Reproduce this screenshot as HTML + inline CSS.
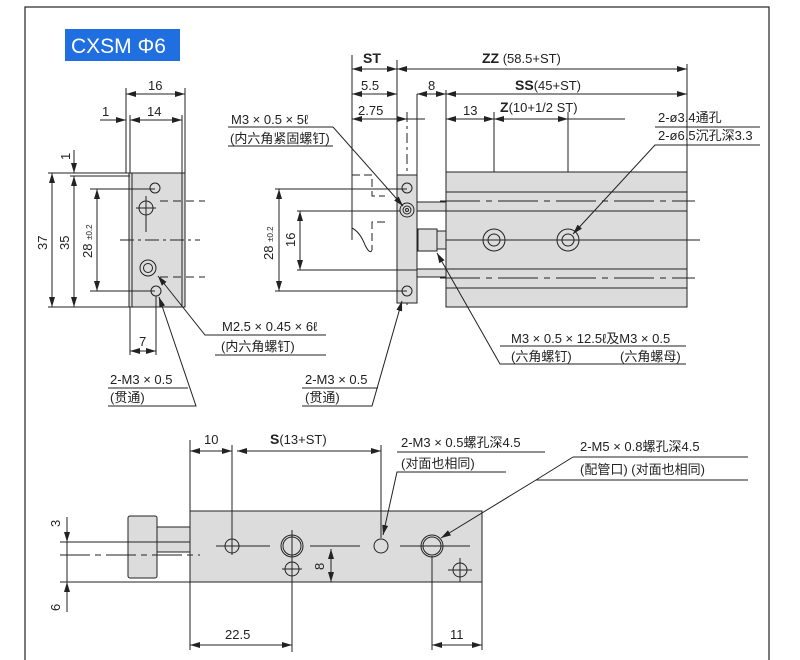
<!DOCTYPE html>
<html><head><meta charset="utf-8"><style>
html,body{margin:0;padding:0;background:#fff;}
svg{display:block;font-family:"Liberation Sans","Noto Sans CJK SC",sans-serif;}
text{font-size:13px;fill:#222;}
</style></head><body>
<svg width="800" height="660" viewBox="0 0 800 660" xmlns="http://www.w3.org/2000/svg">
<defs>
<marker id="a" viewBox="0 0 10 6" refX="10" refY="3" markerWidth="10" markerHeight="6" orient="auto-start-reverse" markerUnits="userSpaceOnUse"><path d="M0,0 L10,3 L0,6z" fill="#222"/></marker>
</defs>
<rect x="25" y="7" width="744" height="660" fill="none" stroke="#222" stroke-width="1.2"/>
<rect x="65" y="29" width="115" height="32" fill="#1f6fe0"/>
<text x="71" y="53" style="font-size:21px;fill:#fff;font-weight:500">CXSM Φ6</text>

<g stroke="#222" stroke-width="1" fill="none">
<!-- LEFT END VIEW -->
<rect x="129" y="173" width="56" height="134" fill="#dcdcdc"/>
<line x1="132" y1="173" x2="132" y2="307"/>
<line x1="182" y1="173" x2="182" y2="307"/>
<circle cx="155" cy="188" r="5"/><circle cx="146" cy="208" r="7"/>
<circle cx="148" cy="268" r="8"/><circle cx="148" cy="268" r="4.5"/>
<circle cx="156" cy="291" r="5"/>
<line x1="120" y1="240" x2="200" y2="240" stroke-dasharray="14,4,3,4"/>
<line x1="160" y1="201" x2="205" y2="201" stroke-dasharray="8,5"/>
<line x1="160" y1="277" x2="205" y2="277" stroke-dasharray="8,5"/>
<line x1="146" y1="196" x2="146" y2="232"/><line x1="136" y1="208" x2="156" y2="208"/>
<line x1="126" y1="88" x2="126" y2="173"/><line x1="185" y1="88" x2="185" y2="173"/>
<line x1="130" y1="115" x2="130" y2="173"/><line x1="182" y1="115" x2="182" y2="173"/>
<line x1="126" y1="94" x2="185" y2="94" marker-start="url(#a)" marker-end="url(#a)"/>
<line x1="130" y1="120" x2="182" y2="120" marker-start="url(#a)" marker-end="url(#a)"/>
<line x1="100" y1="120" x2="126" y2="120" marker-end="url(#a)"/>
<line x1="48" y1="173" x2="185" y2="173"/><line x1="70" y1="176" x2="130" y2="176"/>
<line x1="48" y1="307" x2="185" y2="307"/>
<line x1="90" y1="189" x2="155" y2="189"/><line x1="90" y1="291" x2="155" y2="291"/>
<line x1="52" y1="173" x2="52" y2="307" marker-start="url(#a)" marker-end="url(#a)"/>
<line x1="74" y1="176" x2="74" y2="307" marker-start="url(#a)" marker-end="url(#a)"/>
<line x1="97" y1="189" x2="97" y2="291" marker-start="url(#a)" marker-end="url(#a)"/>
<line x1="74" y1="150" x2="74" y2="173" marker-end="url(#a)"/>
<line x1="130" y1="307" x2="130" y2="355"/><line x1="156" y1="296" x2="156" y2="355"/>
<line x1="130" y1="351" x2="156" y2="351" marker-start="url(#a)" marker-end="url(#a)"/>
<polyline points="326,335 205,335 158,276" marker-end="url(#a)"/>
<line x1="215" y1="355" x2="326" y2="355"/>
<polyline points="108,388 188,388"/><polyline points="108,406 196,406 159,297" marker-end="url(#a)"/>

<!-- MIDDLE SIDE VIEW -->
<line x1="352" y1="55" x2="352" y2="240"/>
<line x1="397" y1="60" x2="397" y2="175"/>
<line x1="446" y1="90" x2="446" y2="172"/>
<line x1="687" y1="64" x2="687" y2="172"/>
<line x1="494" y1="112" x2="494" y2="255"/><line x1="568" y1="112" x2="568" y2="255"/>
<line x1="407" y1="112" x2="407" y2="305" stroke-dasharray="10,4,3,4"/>
<line x1="352" y1="69" x2="397" y2="69" marker-start="url(#a)" marker-end="url(#a)"/>
<line x1="397" y1="69" x2="687" y2="69" marker-start="url(#a)" marker-end="url(#a)"/>
<line x1="352" y1="94" x2="397" y2="94" marker-start="url(#a)" marker-end="url(#a)"/>
<line x1="417" y1="94" x2="446" y2="94" marker-start="url(#a)" marker-end="url(#a)"/>
<line x1="417" y1="94" x2="417" y2="175"/>
<line x1="446" y1="94" x2="687" y2="94" marker-start="url(#a)" marker-end="url(#a)"/>
<line x1="352" y1="119" x2="407" y2="119" marker-start="url(#a)" marker-end="url(#a)"/>
<line x1="407" y1="119" x2="425" y2="119"/>
<line x1="446" y1="119" x2="494" y2="119" marker-start="url(#a)" marker-end="url(#a)"/>
<line x1="494" y1="119" x2="568" y2="119" marker-start="url(#a)" marker-end="url(#a)"/>
<line x1="568" y1="119" x2="625" y2="119"/>
<polyline points="352,175 372,175 372,196 385,196" stroke-dasharray="8,4"/>
<polyline points="385,222 372,222 372,250" stroke-dasharray="8,4"/>
<path d="M352,225 L352,228 Q360,232 365,245 Q370,255 372,250"/>
<rect x="446" y="172" width="241" height="135" fill="#dcdcdc"/>
<line x1="446" y1="192" x2="687" y2="192"/><line x1="446" y1="211" x2="687" y2="211"/>
<line x1="446" y1="269" x2="687" y2="269"/><line x1="446" y1="288" x2="687" y2="288"/>
<line x1="440" y1="201" x2="695" y2="201" stroke-dasharray="40,6,6,6"/>
<line x1="440" y1="278" x2="695" y2="278" stroke-dasharray="40,6,6,6"/>
<line x1="440" y1="240" x2="700" y2="240"/>
<rect x="417" y="202" width="29" height="9" fill="#dcdcdc"/>
<rect x="417" y="269" width="29" height="8" fill="#dcdcdc"/>
<rect x="418" y="229" width="19" height="22" fill="#dcdcdc"/>
<rect x="437" y="231" width="9" height="18" fill="#dcdcdc"/>
<rect x="397" y="175" width="20" height="128" fill="#dcdcdc"/>
<circle cx="407" cy="188" r="5"/><circle cx="407" cy="210" r="7"/><circle cx="407" cy="210" r="4"/><circle cx="407" cy="210" r="1.5"/>
<circle cx="407" cy="291" r="5"/>
<circle cx="494" cy="240" r="11"/><circle cx="494" cy="240" r="6"/>
<circle cx="568" cy="240" r="11"/><circle cx="568" cy="240" r="6"/>
<line x1="275" y1="189" x2="407" y2="189"/><line x1="275" y1="291" x2="407" y2="291"/>
<line x1="297" y1="211" x2="400" y2="211"/><line x1="297" y1="270" x2="417" y2="270"/>
<line x1="279" y1="189" x2="279" y2="291" marker-start="url(#a)" marker-end="url(#a)"/>
<line x1="300" y1="211" x2="300" y2="270" marker-start="url(#a)" marker-end="url(#a)"/>
<line x1="228" y1="127" x2="333" y2="127"/>
<polyline points="228,146 333,146"/>
<line x1="333" y1="127" x2="403" y2="206" marker-end="url(#a)"/>
<line x1="302" y1="388" x2="378" y2="388"/>
<polyline points="302,406 372,406 402,301" marker-end="url(#a)"/>
<line x1="655" y1="127" x2="760" y2="127"/>
<polyline points="760,145 655,145 573,234" marker-end="url(#a)"/>
<line x1="500" y1="346" x2="686" y2="346"/>
<polyline points="686,364 500,364 437,253" marker-end="url(#a)"/>

<!-- BOTTOM VIEW -->
<rect x="190" y="511" width="292" height="71" fill="#dcdcdc"/>
<rect x="155" y="527" width="35" height="25" fill="#dcdcdc"/>
<rect x="128" y="516" width="29" height="62" rx="2" fill="#dcdcdc"/>
<line x1="60" y1="542" x2="190" y2="542"/>
<line x1="60" y1="555" x2="200" y2="555" stroke-dasharray="30,5,6,5"/>
<line x1="60" y1="582" x2="190" y2="582"/>
<line x1="216" y1="546" x2="270" y2="546"/><line x1="310" y1="546" x2="360" y2="546"/>
<line x1="400" y1="546" x2="470" y2="546"/>
<circle cx="232" cy="546" r="7"/>
<circle cx="292" cy="546" r="11"/><circle cx="292" cy="546" r="9"/>
<circle cx="292" cy="569" r="7"/><circle cx="381" cy="546" r="7"/>
<circle cx="432" cy="546" r="11"/><circle cx="432" cy="546" r="9"/>
<circle cx="460" cy="570" r="7"/>
<line x1="460" y1="558" x2="460" y2="582"/><line x1="448" y1="570" x2="472" y2="570"/>
<line x1="282" y1="569" x2="302" y2="569"/>
<line x1="190" y1="440" x2="190" y2="650"/>
<line x1="232" y1="445" x2="232" y2="555"/>
<line x1="381" y1="445" x2="381" y2="538"/>
<line x1="292" y1="530" x2="292" y2="652"/>
<line x1="432" y1="556" x2="432" y2="650"/><line x1="482" y1="582" x2="482" y2="650"/>
<line x1="190" y1="451" x2="232" y2="451" marker-start="url(#a)" marker-end="url(#a)"/>
<line x1="237" y1="451" x2="381" y2="451" marker-start="url(#a)" marker-end="url(#a)"/>
<line x1="190" y1="645" x2="292" y2="645" marker-start="url(#a)" marker-end="url(#a)"/>
<line x1="432" y1="645" x2="482" y2="645" marker-start="url(#a)" marker-end="url(#a)"/>
<line x1="331" y1="549" x2="331" y2="582" marker-start="url(#a)" marker-end="url(#a)"/>
<line x1="67" y1="517" x2="67" y2="542" marker-end="url(#a)"/>
<line x1="67" y1="612" x2="67" y2="582" marker-end="url(#a)"/>
<line x1="67" y1="542" x2="67" y2="582"/>
<line x1="397" y1="452" x2="545" y2="452"/>
<polyline points="506,472 397,472 383,535" marker-end="url(#a)"/>
<line x1="573" y1="457" x2="748" y2="457"/>
<polyline points="748,480 536,480"/>
<polyline points="573,457 536,480 441,538" marker-end="url(#a)"/>
</g>

<text x="148" y="90">16</text>
<text x="147" y="116">14</text>
<text x="102" y="116">1</text>
<text transform="translate(70,160) rotate(-90)">1</text>
<text transform="translate(47,250) rotate(-90)">37</text>
<text transform="translate(69,250) rotate(-90)">35</text>
<text transform="translate(92,258) rotate(-90)">28 <tspan style="font-size:8px">±0.2</tspan></text>
<text x="139" y="346">7</text>
<text x="222" y="331">M2.5 × 0.45 × 6ℓ</text>
<text x="221" y="351">(内六角螺钉)</text>
<text x="110" y="384">2-M3 × 0.5</text>
<text x="110" y="402">(贯通)</text>
<text x="363" y="63" style="font-weight:bold;font-size:14px">ST</text>
<text x="482" y="63"><tspan style="font-weight:bold;font-size:14px">ZZ</tspan> (58.5+ST)</text>
<text x="361" y="90">5.5</text>
<text x="428" y="90">8</text>
<text x="515" y="90"><tspan style="font-weight:bold;font-size:14px">SS</tspan>(45+ST)</text>
<text x="358" y="115">2.75</text>
<text x="463" y="115">13</text>
<text x="500" y="112"><tspan style="font-weight:bold;font-size:14px">Z</tspan>(10+1/2 ST)</text>
<text x="231" y="124">M3 × 0.5 × 5ℓ</text>
<text x="230" y="143">(内六角紧固螺钉)</text>
<text transform="translate(273,260) rotate(-90)">28 <tspan style="font-size:8px">±0.2</tspan></text>
<text transform="translate(295,247) rotate(-90)">16</text>
<text x="658" y="122">2-ø3.4通孔</text>
<text x="658" y="140">2-ø6.5沉孔深3.3</text>
<text x="511" y="343">M3 × 0.5 × 12.5ℓ及M3 × 0.5</text>
<text x="511" y="361">(六角螺钉)</text>
<text x="620" y="361">(六角螺母)</text>
<text x="305" y="384">2-M3 × 0.5</text>
<text x="305" y="402">(贯通)</text>
<text x="204" y="444">10</text>
<text x="270" y="444"><tspan style="font-weight:bold;font-size:14px">S</tspan>(13+ST)</text>
<text x="401" y="447">2-M3 × 0.5螺孔深4.5</text>
<text x="401" y="468">(对面也相同)</text>
<text x="580" y="451">2-M5 × 0.8螺孔深4.5</text>
<text x="580" y="474">(配管口) (对面也相同)</text>
<text transform="translate(60,527) rotate(-90)">3</text>
<text transform="translate(60,611) rotate(-90)">6</text>
<text transform="translate(324,570) rotate(-90)">8</text>
<text x="225" y="639">22.5</text>
<text x="450" y="639">11</text>
</svg>
</body></html>
